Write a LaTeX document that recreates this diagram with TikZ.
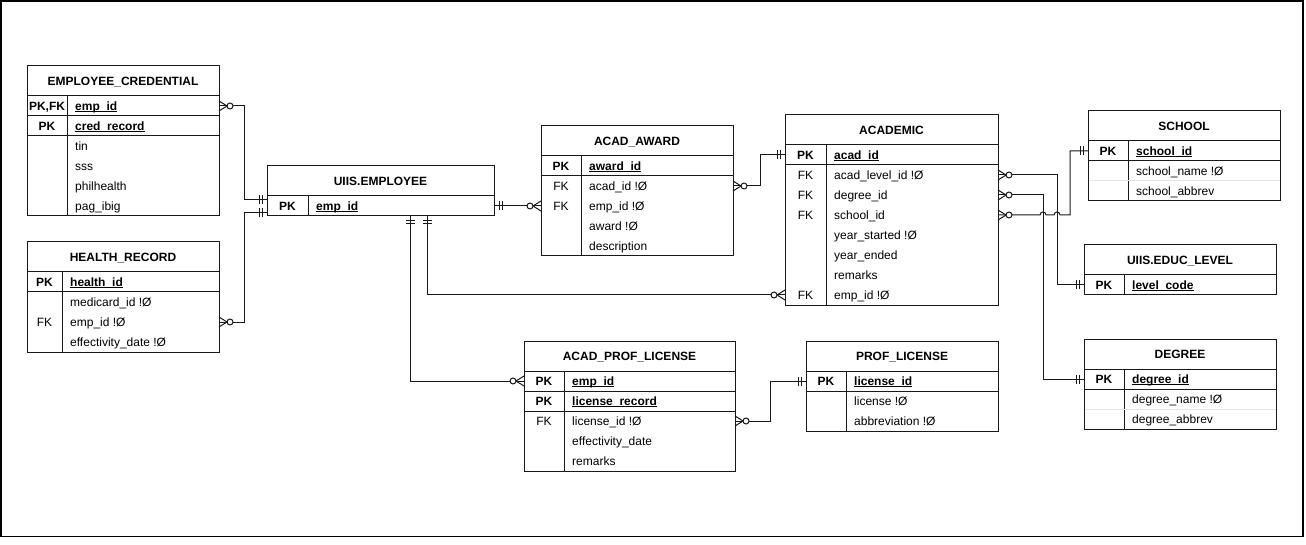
\documentclass[tikz,border=0pt]{standalone}
\usepackage{fontspec}
\setmainfont{Liberation Sans}
\usetikzlibrary{calc}
\newcommand{\fnt}{\fontsize{12}{14.4}\selectfont}
\newcommand{\ulk}[1]{\setbox0=\hbox{#1}\rlap{\rule[-1.8pt]{\wd0}{0.9pt}}\box0}
\tikzset{
  tbl/.style={draw=black!90, line width=1pt, rectangle, inner sep=0pt, outer sep=0pt},
  ttl/.style={font=\fnt\bfseries, inner sep=0pt, text height=8.3pt, text depth=0pt},
  fld/.style={font=\fnt, inner sep=0pt, text height=8.3pt, text depth=0pt, anchor=west},
  fldb/.style={fld, font=\fnt\bfseries},
  keyn/.style={font=\fnt, inner sep=0pt, text height=8.3pt, text depth=0pt},
  keyb/.style={keyn, font=\fnt\bfseries},
  tline/.style={draw=black!90, line width=1pt},
  lightline/.style={draw=black!10, line width=1pt},
  cline/.style={draw=black!90, line width=1pt},
}
% table: name, x, y, width, height, key width, title
\newcommand{\ertable}[7]{%
  \node[tbl, minimum width=#4pt, minimum height=#5pt, anchor=north west] (#1) at (#2,#3) {};
  \node[ttl] (#1-title) at (#2+#4/2,#3+15) {#7};
  \draw[tline] (#2,#3+30) -- (#2+#4,#3+30);
  \draw[tline] (#2+#6,#3+30) -- (#2+#6,#3+#5);
}
% primary key row: name, x, y, key width, key, field
\newcommand{\pkrow}[6]{%
  \node[keyb] (#1-key) at (#2+#4/2,#3+10) {#5};
  \node[fldb] (#1) at (#2+#4+8,#3+10) {\ulk{#6}};
}
% keyed row (FK): name, x, y, key width, key, field
\newcommand{\krow}[6]{%
  \node[keyn] (#1-key) at (#2+#4/2,#3+10) {#5};
  \node[fld] (#1) at (#2+#4+8,#3+10) {#6};
}
% plain row: name, x, y, key width, field
\newcommand{\frow}[5]{%
  \node[fld] (#1) at (#2+#4+8,#3+10) {#5};
}
\newcommand{\rowsep}[4][tline]{\draw[#1] (#2,#3) -- ++(#4,0);}
% mandatory one marker
\newcommand{\mone}[2]{\begin{scope}[shift={(#1)},rotate=#2]
  \draw[cline] (5,-4.5) -- (5,4.5) (8,-4.5) -- (8,4.5);\end{scope}}
% zero or many marker
\newcommand{\zmany}[2]{\begin{scope}[shift={(#1)},rotate=#2]
  \draw[cline] (0,-5) -- (8,0) -- (0,5);
  \draw[cline, fill=white] (11,0) circle[radius=3pt];\end{scope}}
\begin{document}
\begin{tikzpicture}[x=1pt, y=-1pt]
\useasboundingbox (0,0) rectangle (1306,545);
\draw[line width=1.5pt, black] (1,1) rectangle (1303,536.5);

% EMPLOYEE_CREDENTIAL
\ertable{ec}{27}{66}{192}{150}{40}{EMPLOYEE\_CREDENTIAL}
\pkrow{ec-emp}{27}{96}{40}{PK,FK}{emp\_id}
\pkrow{ec-cred}{27}{116}{40}{PK}{cred\_record}
\rowsep{27}{116}{192}
\rowsep{27}{136}{192}
\frow{ec-tin}{27}{136}{40}{tin}
\frow{ec-sss}{27}{156}{40}{sss}
\frow{ec-phil}{27}{176}{40}{philhealth}
\frow{ec-pag}{27}{196}{40}{pag\_ibig}

% HEALTH_RECORD
\ertable{hr}{27}{242}{192}{110}{35}{HEALTH\_RECORD}
\pkrow{hr-id}{27}{272}{35}{PK}{health\_id}
\rowsep{27}{292}{192}
\frow{hr-med}{27}{292}{35}{medicard\_id !Ø}
\krow{hr-emp}{27}{312}{35}{FK}{emp\_id !Ø}
\frow{hr-eff}{27}{332}{35}{effectivity\_date !Ø}

% UIIS.EMPLOYEE
\ertable{emp}{267}{166}{227}{50}{41}{UIIS.EMPLOYEE}
\pkrow{emp-id}{267}{196}{41}{PK}{emp\_id}

% ACAD_AWARD
\ertable{aa}{541}{126}{192}{130}{40}{ACAD\_AWARD}
\pkrow{aa-id}{541}{156}{40}{PK}{award\_id}
\rowsep{541}{176}{192}
\krow{aa-acad}{541}{176}{40}{FK}{acad\_id !Ø}
\krow{aa-emp}{541}{196}{40}{FK}{emp\_id !Ø}
\frow{aa-award}{541}{216}{40}{award !Ø}
\frow{aa-desc}{541}{236}{40}{description}

% ACADEMIC
\ertable{ac}{785}{115}{213}{190}{41}{ACADEMIC}
\pkrow{ac-id}{785}{145}{41}{PK}{acad\_id}
\rowsep{785}{165}{213}
\krow{ac-lvl}{785}{165}{41}{FK}{acad\_level\_id !Ø}
\krow{ac-deg}{785}{185}{41}{FK}{degree\_id}
\krow{ac-sch}{785}{205}{41}{FK}{school\_id}
\frow{ac-ys}{785}{225}{41}{year\_started !Ø}
\frow{ac-ye}{785}{245}{41}{year\_ended}
\frow{ac-rem}{785}{265}{41}{remarks}
\krow{ac-emp}{785}{285}{41}{FK}{emp\_id !Ø}

% SCHOOL
\ertable{sc}{1088}{111}{192}{90}{40}{SCHOOL}
\pkrow{sc-id}{1088}{141}{40}{PK}{school\_id}
\rowsep{1088}{161}{192}
\rowsep[lightline]{1088.5}{181}{191}
\frow{sc-name}{1088}{161}{40}{school\_name !Ø}
\frow{sc-abbr}{1088}{181}{40}{school\_abbrev}

% UIIS.EDUC_LEVEL
\ertable{el}{1084}{245}{192}{50}{40}{UIIS.EDUC\_LEVEL}
\pkrow{el-code}{1084}{275}{40}{PK}{level\_code}

% DEGREE
\ertable{dg}{1084}{339}{192}{90}{40}{DEGREE}
\pkrow{dg-id}{1084}{369}{40}{PK}{degree\_id}
\rowsep{1084}{389}{192}
\rowsep[lightline]{1084.5}{409}{191}
\frow{dg-name}{1084}{389}{40}{degree\_name !Ø}
\frow{dg-abbr}{1084}{409}{40}{degree\_abbrev}

% ACAD_PROF_LICENSE
\ertable{apl}{524}{341}{211}{130}{40}{ACAD\_PROF\_LICENSE}
\pkrow{apl-emp}{524}{371}{40}{PK}{emp\_id}
\rowsep{524}{391}{211}
\pkrow{apl-rec}{524}{391}{40}{PK}{license\_record}
\rowsep{524}{411}{211}
\krow{apl-lic}{524}{411}{40}{FK}{license\_id !Ø}
\frow{apl-eff}{524}{431}{40}{effectivity\_date}
\frow{apl-rem}{524}{451}{40}{remarks}

% PROF_LICENSE
\ertable{pl}{806}{341}{192}{90}{40}{PROF\_LICENSE}
\pkrow{pl-id}{806}{371}{40}{PK}{license\_id}
\rowsep{806}{391}{192}
\frow{pl-lic}{806}{391}{40}{license !Ø}
\frow{pl-abbr}{806}{411}{40}{abbreviation !Ø}

% connector end points
\coordinate (c1s) at ([yshift=6pt]emp-id.center -| emp.west);
\coordinate (c1e) at (ec-emp.center -| ec.east);
\coordinate (c2s) at ([yshift=-7pt]emp-id.center -| emp.west);
\coordinate (c2e) at (hr-emp.center -| hr.east);
\coordinate (c3s) at (emp-id.center -| emp.east);
\coordinate (c3e) at (aa-emp.center -| aa.west);
\coordinate (c4s) at ([xshift=29.5pt]emp.south);
\coordinate (c4e) at (apl-emp.center -| apl.west);
\coordinate (c5s) at ([xshift=46.5pt]emp.south);
\coordinate (c5e) at (ac-emp.center -| ac.west);
\coordinate (c6s) at (aa-acad.center -| aa.east);
\coordinate (c6e) at (ac-id.center -| ac.west);
\coordinate (c7s) at (ac-lvl.center -| ac.east);
\coordinate (c7e) at (el-code.center -| el.west);
\coordinate (c8s) at (ac-deg.center -| ac.east);
\coordinate (c8e) at (dg-id.center -| dg.west);
\coordinate (c9s) at (ac-sch.center -| ac.east);
\coordinate (c9e) at (sc-id.center -| sc.west);
\coordinate (c10s) at (apl-lic.center -| apl.east);
\coordinate (c10e) at (pl-id.center -| pl.west);
\coordinate (h1) at ([xshift=42pt]c9s);
\coordinate (h2) at ([xshift=56pt]c9s);
\coordinate (k9) at ([xshift=72pt]c9s);

% connectors
\draw[cline] (c1s) -- ++(-23,0) |- (c1e);
\draw[cline] (c2s) -- ++(-23,0) |- (c2e);
\draw[cline] (c3s) -- (c3e);
\draw[cline] (c4s) |- (c4e);
\draw[cline] (c5s) |- (c5e);
\draw[cline] (c6s) -- ++(27,0) |- (c6e);
\draw[cline] (c7s) -- ++(59,0) |- (c7e);
\draw[cline] (c8s) -- ++(45,0) |- (c8e);
\draw[cline] (c9s) -- (h1)
  .. controls ([yshift=4pt]h1) and ([shift={(6pt,4pt)}]h1) .. ([xshift=6pt]h1)
  -- (h2)
  .. controls ([yshift=4pt]h2) and ([shift={(6pt,4pt)}]h2) .. ([xshift=6pt]h2)
  -- (k9) |- (c9e);
\draw[cline] (c10s) -- ++(35,0) |- (c10e);

% markers
\mone{c1s}{180} \zmany{c1e}{0}
\mone{c2s}{180} \zmany{c2e}{0}
\mone{c3s}{0} \zmany{c3e}{180}
\mone{c4s}{-90} \zmany{c4e}{180}
\mone{c5s}{-90} \zmany{c5e}{180}
\zmany{c6s}{0} \mone{c6e}{180}
\zmany{c7s}{0} \mone{c7e}{180}
\zmany{c8s}{0} \mone{c8e}{180}
\zmany{c9s}{0} \mone{c9e}{180}
\zmany{c10s}{0} \mone{c10e}{180}
\end{tikzpicture}
\end{document}
